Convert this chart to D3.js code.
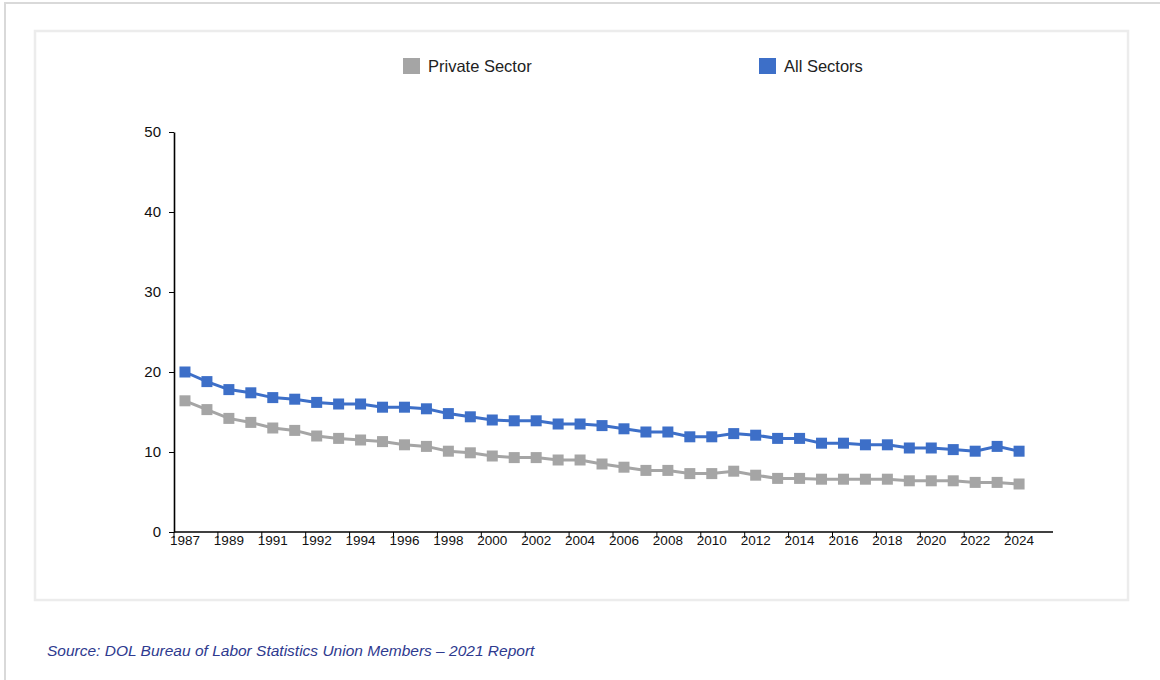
<!DOCTYPE html>
<html>
<head>
<meta charset="utf-8">
<script src="https://cdn.jsdelivr.net/npm/d3@7"></script>
<style>
  body { margin: 0; background: #fff; font-family: "Liberation Sans", Arial, sans-serif; }
</style>
</head>
<body>
<script>
  // tick labels shown under every other point, as on the original chart
  var tickLabels = ["1987", "1989", "1991", "1992", "1994", "1996", "1998", "2000", "2002", "2004",
                    "2006", "2008", "2010", "2012", "2014", "2016", "2018", "2020", "2022", "2024"];

  var privateSector = [16.4, 15.3, 14.2, 13.7, 13.0, 12.7, 12.0, 11.7, 11.5, 11.3,
                       10.9, 10.7, 10.1, 9.9, 9.5, 9.3, 9.3, 9.0, 9.0, 8.5,
                       8.1, 7.7, 7.7, 7.3, 7.3, 7.6, 7.1, 6.7, 6.7, 6.6,
                       6.6, 6.6, 6.6, 6.4, 6.4, 6.4, 6.2, 6.2, 6.0];

  var allSectors = [20.0, 18.8, 17.8, 17.4, 16.8, 16.6, 16.2, 16.0, 16.0, 15.6,
                    15.6, 15.4, 14.8, 14.4, 14.0, 13.9, 13.9, 13.5, 13.5, 13.3,
                    12.9, 12.5, 12.5, 11.9, 11.9, 12.3, 12.1, 11.7, 11.7, 11.1,
                    11.1, 10.9, 10.9, 10.5, 10.5, 10.3, 10.1, 10.7, 10.1];

  var yTicks = [0, 10, 20, 30, 40, 50];

  var series = [
    {name: "Private Sector", values: privateSector, color: "#a5a5a5"},
    {name: "All Sectors", values: allSectors, color: "#3d6fc8"}
  ];

  var width = 1160, height = 680;
  var margin = {top: 132, left: 174},
      plotH = 400,
      step = 21.95,
      axisW = 879;

  var svg = d3.select("body").append("svg")
      .attr("width", width)
      .attr("height", height);

  // page frame + chart panel
  svg.append("rect")
      .attr("x", 5).attr("y", 3)
      .attr("width", 1170).attr("height", 700)
      .attr("fill", "none")
      .attr("stroke", "#d9d9d9")
      .attr("stroke-width", 2);

  svg.append("rect")
      .attr("x", 35).attr("y", 31)
      .attr("width", 1093).attr("height", 569)
      .attr("fill", "#fff")
      .attr("stroke", "#ececec")
      .attr("stroke-width", 2.5);

  var xScale = d3.scaleBand()
      .domain(d3.range(allSectors.length))
      .range([0, step * allSectors.length]);

  var yScale = d3.scaleLinear()
      .domain([0, 50])
      .range([plotH, 0]);

  var bw = xScale.bandwidth();
  var cx = function(i) { return xScale(i) + bw / 2; };

  var g = svg.append("g")
      .attr("transform", "translate(" + margin.left + "," + margin.top + ")");

  // axis-x
  var xAxis = g.append("g")
      .attr("transform", "translate(0," + plotH + ")")
      .call(d3.axisBottom(xScale)
        .tickValues(xScale.domain().filter(function(i) { return i % 2 === 0; }))
        .tickSize(6)
        .tickPadding(-3)
        .tickFormat(function(i) { return tickLabels[i / 2]; }));

  xAxis.select(".domain")
      .attr("d", "M0,0H" + axisW)
      .attr("stroke", "#000")
      .attr("stroke-width", 1.6);
  xAxis.selectAll(".tick line")
      .attr("transform", "translate(" + (-bw / 2) + ",0)")
      .attr("stroke", "#000");
  xAxis.selectAll(".tick text")
      .attr("font-family", "Liberation Sans, Arial, sans-serif")
      .attr("font-size", "13.5px")
      .attr("fill", "#111");

  // axis-y
  var yAxis = g.append("g")
      .call(d3.axisLeft(yScale)
        .tickValues(yTicks)
        .tickSize(5)
        .tickSizeOuter(0)
        .tickPadding(8));

  yAxis.select(".domain").attr("stroke", "#000").attr("stroke-width", 1.6);
  yAxis.selectAll(".tick line").attr("stroke", "#000");
  yAxis.selectAll(".tick text")
      .attr("font-family", "Liberation Sans, Arial, sans-serif")
      .attr("font-size", "15px")
      .attr("fill", "#111");

  // lines + square markers
  var line = d3.line()
      .x(function(d, i) { return cx(i); })
      .y(function(d) { return yScale(d); });

  series.forEach(function(s) {
    g.append("path")
        .attr("d", line(s.values))
        .attr("fill", "none")
        .attr("stroke", s.color)
        .attr("stroke-width", 3);

    g.selectAll(null)
        .data(s.values)
        .enter().append("rect")
        .attr("x", function(d, i) { return cx(i) - 5.5; })
        .attr("y", function(d) { return yScale(d) - 5.5; })
        .attr("width", 11)
        .attr("height", 11)
        .attr("fill", s.color);
  });

  // legend
  var legendX = [403, 759];
  var legend = svg.selectAll(".legend")
      .data(series)
      .enter().append("g")
      .attr("class", "legend")
      .attr("transform", function(d, i) { return "translate(" + legendX[i] + ",58)"; });

  legend.append("rect")
      .attr("width", 17)
      .attr("height", 16)
      .attr("fill", function(d) { return d.color; });

  legend.append("text")
      .attr("x", 25)
      .attr("y", 13.5)
      .attr("font-size", "16.5px")
      .attr("fill", "#222")
      .text(function(d) { return d.name; });

  // source note
  svg.append("text")
      .attr("x", 47)
      .attr("y", 656)
      .attr("font-size", "15.5px")
      .attr("font-style", "italic")
      .attr("fill", "#2e3a8f")
      .text("Source: DOL Bureau of Labor Statistics Union Members \u2013 2021 Report");
</script>
</body>
</html>
